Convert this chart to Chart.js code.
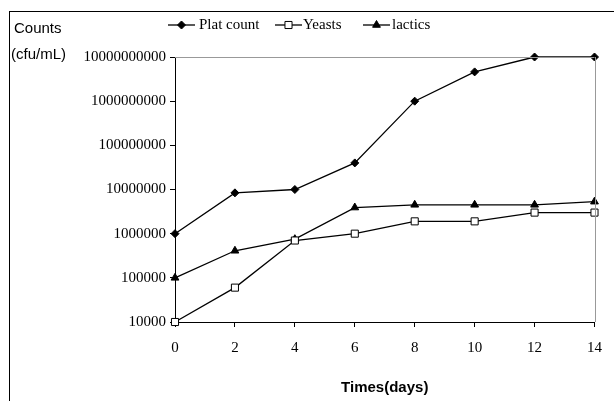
<!DOCTYPE html>
<html lang="en">
<head>
  <meta charset="UTF-8" />
  <title>Counts over time</title>
  <script src="https://cdn.jsdelivr.net/npm/chart.js"></script>
  <style>
    body { margin: 0; background: #fff; }
    #wrap { width: 614px; height: 401px; }
  </style>
</head>
<body>
  <div id="wrap"><canvas id="chart" width="614" height="401"></canvas></div>
  <script>
    // data (log scale counts)
    const days = [0, 2, 4, 6, 8, 10, 12, 14];
    const platCount = [1e6, 8.4e6, 1e7, 4e7, 1e9, 4.6e9, 1e10, 1e10];
    const yeasts = [1e4, 6e4, 7e5, 1e6, 1.9e6, 1.9e6, 3e6, 3e6];
    const lactics = [1e5, 4.1e5, 7.5e5, 3.9e6, 4.5e6, 4.5e6, 4.5e6, 5.3e6];
    const yTicks = [1e4, 1e5, 1e6, 1e7, 1e8, 1e9, 1e10];
    const yTickLabels = ['10000', '100000', '1000000', '10000000', '100000000', '1000000000', '10000000000'];
    const seriesNames = ['Plat count', 'Yeasts', 'lactics'];

    const serif = "'Liberation Serif', 'Times New Roman', serif";
    const narrow = "'Liberation Sans Narrow', 'Liberation Sans', Arial, sans-serif";

    const pts = arr => days.map((d, i) => ({ x: d, y: arr[i] }));

    // frame, top/right gray plot edges, y label and legend
    const decor = {
      id: 'decor',
      afterDraw(chart) {
        const { ctx, chartArea: a } = chart;
        ctx.save();
        ctx.strokeStyle = '#000';
        ctx.lineWidth = 1;
        ctx.strokeRect(9.5, 11.5, 620, 400); // right/bottom edges fall outside the page
        ctx.strokeStyle = '#999';
        ctx.beginPath();
        ctx.moveTo(a.left, Math.round(a.top) + 0.5);
        ctx.lineTo(a.right, Math.round(a.top) + 0.5);
        ctx.moveTo(Math.round(a.right) + 0.5, a.top);
        ctx.lineTo(Math.round(a.right) + 0.5, a.bottom);
        ctx.stroke();

        ctx.fillStyle = '#000';
        ctx.font = "15px " + narrow;
        ctx.textBaseline = 'middle';
        ctx.fillText('Counts', 14, 29);
        ctx.fillText('(cfu/mL)', 11, 55);

        // legend
        const items = [[168, 199], [275, 303], [363, 392]];
        ctx.font = "15px " + serif;
        chart.data.datasets.forEach((ds, i) => {
          const [x0, tx] = items[i];
          const y = 25;
          ctx.strokeStyle = '#000';
          ctx.lineWidth = 1.3;
          ctx.beginPath();
          ctx.moveTo(x0, y);
          ctx.lineTo(x0 + 27, y);
          ctx.stroke();
          ctx.fillStyle = ds.pointBackgroundColor;
          ctx.strokeStyle = '#000';
          ctx.lineWidth = 1;
          Chart.helpers.drawPoint(ctx, { pointStyle: ds.pointStyle, radius: ds.pointRadius, rotation: 0, borderWidth: 1 }, x0 + 13.5, y);
          ctx.fillStyle = '#000';
          ctx.fillText(seriesNames[i], tx, y);
        });
        ctx.restore();
      }
    };

    const line = (label, data, style, fill, r) => ({
      label, data,
      borderColor: '#000',
      borderWidth: 1.3,
      pointStyle: style,
      pointRadius: r,
      pointBackgroundColor: fill,
      pointBorderColor: '#000',
      pointBorderWidth: 1,
      tension: 0,
      clip: false
    });

    new Chart(document.getElementById('chart'), {
      type: 'line',
      data: {
        datasets: [
          line(seriesNames[0], pts(platCount), 'rectRot', '#000', 4),
          line(seriesNames[1], pts(yeasts), 'rect', '#fff', 5),
          line(seriesNames[2], pts(lactics), 'triangle', '#000', 4.5)
        ]
      },
      options: {
        responsive: false,
        animation: false,
        layout: { padding: { top: 57, right: 15, left: 0, bottom: 0 } },
        plugins: { legend: { display: false }, tooltip: { enabled: false } },
        scales: {
          x: {
            type: 'linear', min: 0, max: 14,
            afterFit: s => { s.height = 79; },
            ticks: { stepSize: 2, color: '#000', padding: 12, font: { family: serif, size: 15 } },
            grid: { drawOnChartArea: false, tickLength: 5, color: '#000' },
            border: { color: '#000', width: 1 },
            title: { display: true, text: 'Times(days)', color: '#000', padding: { top: 12 }, font: { family: narrow, size: 15, weight: 'bold' } }
          },
          y: {
            type: 'logarithmic', min: 1e4, max: 1e10,
            afterFit: s => { s.width = 175; },
            afterBuildTicks: s => { s.ticks = yTicks.map(v => ({ value: v })); },
            ticks: {
              color: '#000', padding: 4, font: { family: serif, size: 15 },
              callback: v => yTickLabels[yTicks.indexOf(v)] ?? ''
            },
            grid: { drawOnChartArea: false, tickLength: 5, color: '#000' },
            border: { color: '#000', width: 1 }
          }
        }
      },
      plugins: [decor]
    });
  </script>
</body>
</html>
